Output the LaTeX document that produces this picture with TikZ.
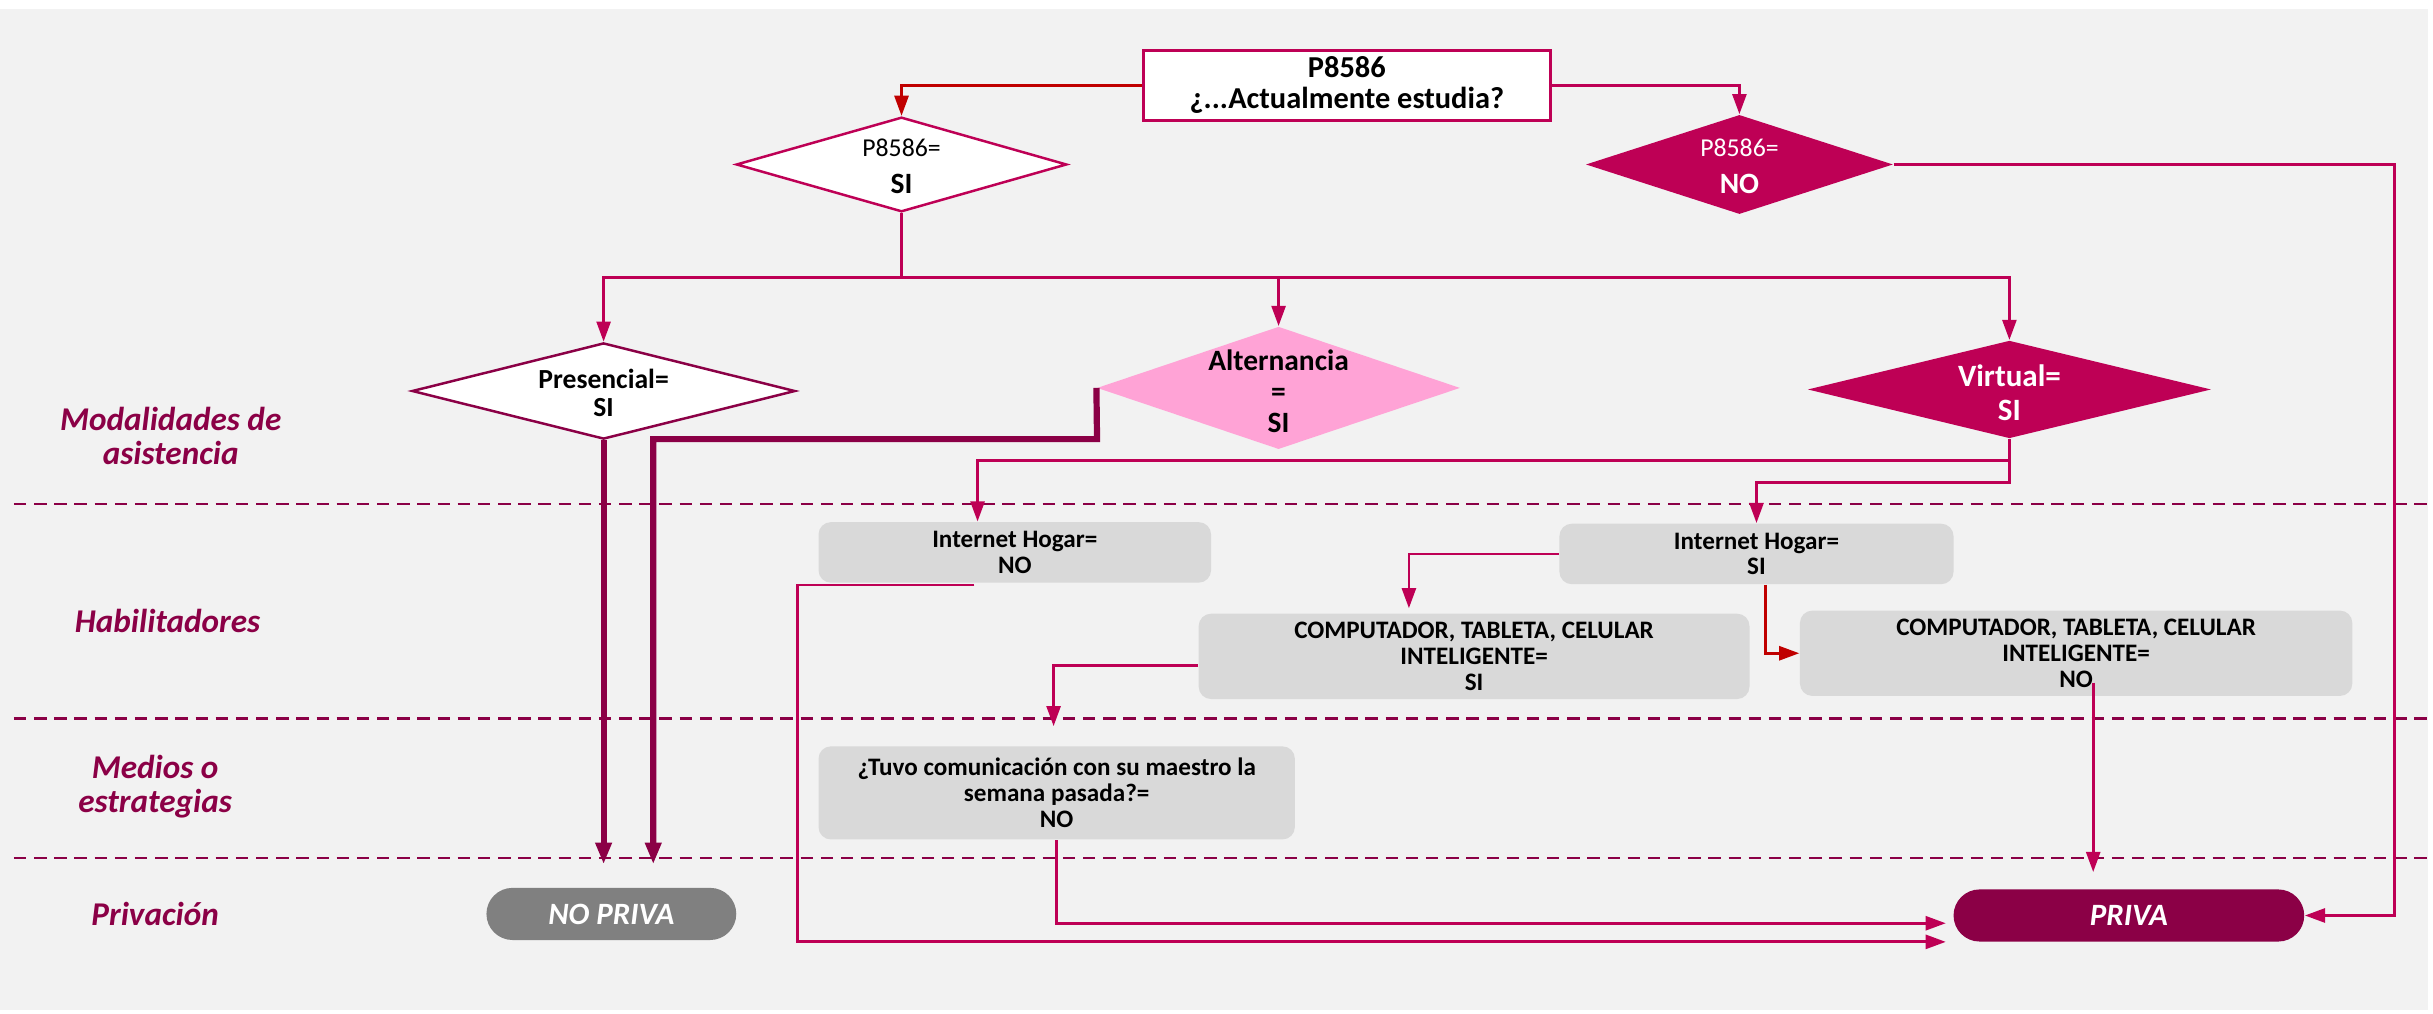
\documentclass[tikz,border=0pt]{standalone}
\usepackage{fontspec}
\setmainfont{Carlito}
\usetikzlibrary{arrows.meta,shapes.geometric}
\definecolor{bg}{HTML}{F2F2F2}
\definecolor{mag}{HTML}{BE0055}
\definecolor{dmag}{HTML}{8B0046}
\definecolor{redarr}{HTML}{C00000}
\definecolor{pinkf}{HTML}{FFA3D6}
\definecolor{boxg}{HTML}{D9D9D9}
\definecolor{npg}{HTML}{808080}
\tikzset{
  conn/.style={draw=mag, line width=0.9pt, -{Triangle[length=6.5pt,width=4.5pt]}},
  redconn/.style={conn, draw=redarr},
  thickconn/.style={draw=dmag, line width=2pt, -{Triangle[length=7pt,width=5pt]}},
  sep/.style={draw=dmag, line width=0.7pt, dash pattern=on 4pt off 2.5pt},
  dia/.style={diamond, inner sep=0pt},
  dtext/.style={align=center, inner sep=0pt},
  gbox/.style={rectangle, rounded corners=4pt, fill=boxg, align=center, inner sep=0pt,
     font=\fontsize{8.1pt}{8.3pt}\selectfont\bfseries},
  lane/.style={text=dmag, align=center, font=\fontsize{10.7pt}{11pt}\selectfont\bfseries\itshape},
  term/.style={rectangle, rounded corners=8.4pt, text=white, inner sep=0pt,
     font=\fontsize{10pt}{11pt}\selectfont\bfseries\itshape}
}
\begin{document}
\begin{tikzpicture}[x=0.5pt,y=-0.5pt]
\fill[white] (0,0) rectangle (1568,653);
\fill[bg] (0,6) rectangle (1565,651);
\useasboundingbox (0,0) rectangle (1568,653);

% lane separators
\draw[sep] (9,325) -- (1565,325);
\draw[sep] (9,463) -- (1565,463);
\draw[sep] (9,553) -- (1565,553);

% lane labels
\node[lane] (l1) at (110,281) {Modalidades de\\asistencia};
\node[lane] (l2) at (108,400) {Habilitadores};
\node[lane] (l3) at (100,507) {Medios o\\estrategias};
\node[lane] (l4) at (100,589) {Privación};

% top question
\node[draw=mag, fill=white, line width=1pt, minimum width=131pt, minimum height=22.5pt,
  align=center, inner sep=0pt, font=\fontsize{9.8pt}{10pt}\selectfont\bfseries]
  (top) at (868,55) {P8586\\¿...Actualmente estudia?};

% diamonds
\node[dia, draw=mag, fill=white, line width=0.8pt, minimum width=106.5pt, minimum height=30.5pt] (dSI) at (581,106) {};
\node[dtext] (dSIt) at (581,107) {\fontsize{8.3pt}{9.5pt}\selectfont P8586=\\\fontsize{9.5pt}{9.5pt}\selectfont\bfseries SI};
\node[dia, fill=mag, minimum width=99pt, minimum height=32pt] (dNO) at (1121,106) {};
\node[dtext, text=white] (dNOt) at (1121,107) {\fontsize{8.3pt}{9.5pt}\selectfont P8586=\\\fontsize{9.5pt}{9.5pt}\selectfont\bfseries NO};

\node[dia, draw=dmag, fill=white, line width=0.8pt, minimum width=123.5pt, minimum height=31pt] (pres) at (389,252) {};
\node[dtext, font=\fontsize{8.9pt}{9pt}\selectfont\bfseries] (prest) at (389,253) {Presencial=\\SI};
\node[dia, fill=pinkf, minimum width=117pt, minimum height=39.5pt] (alt) at (824,250) {};
\node[dtext, font=\fontsize{9.5pt}{10pt}\selectfont\bfseries] (altt) at (824,252) {Alternancia\\=\\SI};
\node[dia, fill=mag, minimum width=130pt, minimum height=31.5pt] (virt) at (1295,251) {};
\node[dtext, text=white, font=\fontsize{10pt}{11pt}\selectfont\bfseries] (virtt) at (1295,253) {Virtual=\\SI};

% grey boxes
\node[gbox, minimum width=126.5pt, minimum height=19.5pt] (ihNO) at (654,356) {Internet Hogar=\\NO};
\node[gbox, minimum width=127pt, minimum height=19.5pt] (ihSI) at (1132,357) {Internet Hogar=\\SI};
\node[gbox, minimum width=177.5pt, minimum height=27.5pt] (cSI) at (950,423) {COMPUTADOR, TABLETA, CELULAR\\INTELIGENTE=\\SI};
\node[gbox, minimum width=178pt, minimum height=27.5pt] (cNO) at (1338,421) {COMPUTADOR, TABLETA, CELULAR\\INTELIGENTE=\\NO};
\node[gbox, minimum width=153.5pt, minimum height=30pt] (tuvo) at (681,511) {¿Tuvo comunicación con su maestro la\\semana pasada?=\\NO};

% terminals
\node[term, fill=npg, minimum width=80.5pt, minimum height=16.8pt] (nopriva) at (394,589) {NO PRIVA};
\node[term, fill=dmag, minimum width=113pt, minimum height=16.8pt] (priva) at (1372,590) {PRIVA};

% helper coordinates
\coordinate (br) at (581,179);
\coordinate (rx) at (1543,106);
\coordinate (np1) at (389,557);
\coordinate (alc) at (707,283);
\coordinate (np2) at (421,557);
\coordinate (a1) at (630,297);
\coordinate (a2) at (1132,311);
\coordinate (ihNOout) at (628,377);
\coordinate (lx) at (514,607);
\coordinate (pin2) at (1254,607);
\coordinate (pin1) at (1254,595);
\coordinate (a3) at (908,392);
\coordinate (a4) at (679,468);
\coordinate (cNOout) at (1349,440);
\coordinate (a5) at (1349,562);

% connectors
\draw[redconn] (top.west) -| (dSI.north);
\draw[conn] (top.east) -| (dNO.north);
\draw[conn] (dSI.south) -- (br) -| (pres.north);
\draw[conn] (br) -| (virt.north);
\draw[conn] (br -| alt.north) -- (alt.north);
\draw[conn] (dNO.east) -- (rx) |- (priva.east);

\draw[thickconn] (pres.south) -- (np1);
\draw[thickconn] (alt.west) -- (alc) -| (np2);

\draw[conn] (virt.south) |- (a1) -- (a1 |- ihNO.north);
\draw[conn] (virt.south) |- (a2) -- (ihSI.north);

\draw[conn] (ihNOout) -| (lx) -- (pin2);
\draw[conn] (ihSI.west) -| (a3);
\draw[redconn] ([xshift=3pt]ihSI.south) |- (cNO.west);
\draw[conn] ([yshift=-3pt]cSI.west) -| (a4);
\draw[conn] (cNOout) -- (a5);
\draw[conn] (tuvo.south) |- (pin1);
\end{tikzpicture}
\end{document}
